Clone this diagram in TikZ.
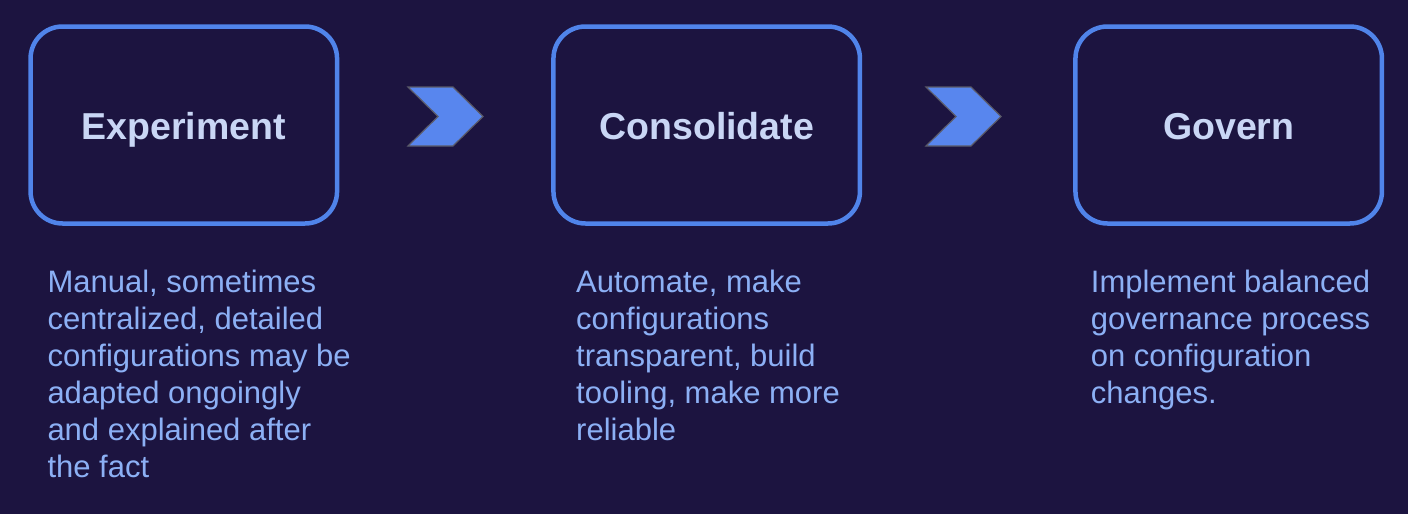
\documentclass[tikz,border=0pt]{standalone}
\usepackage{fontspec}
\setmainfont{Liberation Sans}
\definecolor{bgc}{RGB}{28,20,64}
\definecolor{boxc}{RGB}{80,132,234}
\definecolor{titlec}{RGB}{201,214,245}
\definecolor{bodyc}{RGB}{140,176,245}
\definecolor{chevc}{RGB}{88,134,238}
\definecolor{chevb}{RGB}{90,90,105}
\tikzset{
  stagebox/.style={draw=boxc, line width=4.5pt, rounded corners=32pt, minimum width=306.5pt, minimum height=197pt, inner sep=0pt, text height=28pt, text depth=0pt, font=\fontsize{37.5}{45}\selectfont\bfseries, text=titlec},
  bodytext/.style={anchor=base west, align=left, inner sep=0pt, font=\fontsize{31}{37}\selectfont, text=bodyc},
  chevron/.style={fill=chevc, draw=chevb, line width=1.2pt, line join=miter}
}
\begin{document}
\begin{tikzpicture}[x=1pt,y=-1pt]
\fill[bgc] (0,0) rectangle (1408,514);
\useasboundingbox (0,0) rectangle (1408,514);
\node[stagebox] (b1) at (183.8,125) {Experiment};
\node[stagebox] (b2) at (706.7,125) {Consolidate};
\node[stagebox] (b3) at (1228.7,125) {Govern};
% base anchor = baseline of last line; first baseline at 292.3, line pitch 37
\node[bodytext] (t1) at (47.3,477.3) {Manual, sometimes\\centralized, detailed\\configurations may be\\adapted ongoingly\\and explained after\\the fact};
\node[bodytext] (t2) at (576,440.3) {Automate, make\\configurations\\transparent, build\\tooling, make more\\reliable};
\node[bodytext] (t3) at (1090.7,403.3) {Implement balanced\\governance process\\on configuration\\changes.};
\draw[chevron] (408,87) -- (453,87) -- (483,116.5) -- (453,146) -- (408,146) -- (438,116.5) -- cycle;
\draw[chevron] (926,87) -- (971,87) -- (1001,116.5) -- (971,146) -- (926,146) -- (956,116.5) -- cycle;
\end{tikzpicture}
\end{document}
